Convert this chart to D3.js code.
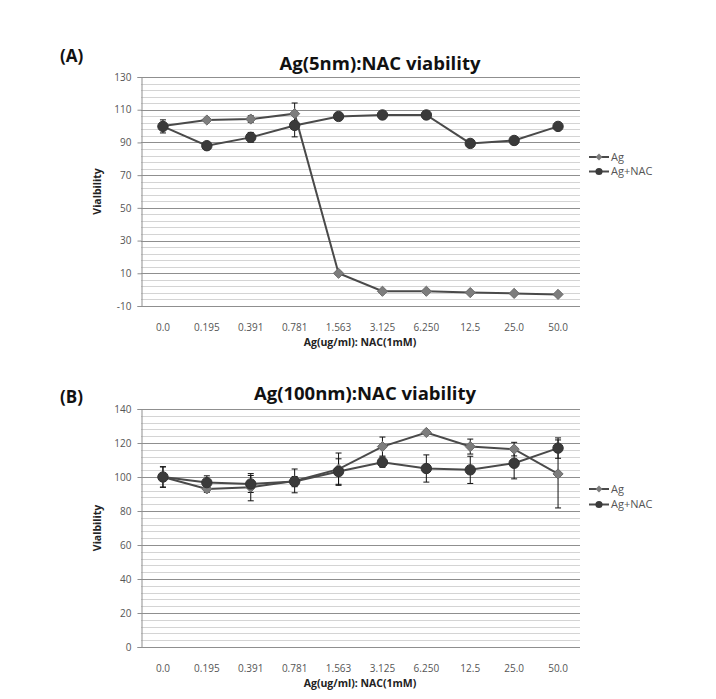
<!DOCTYPE html>
<html>
<head>
<meta charset="utf-8">
<script src="https://cdn.jsdelivr.net/npm/d3@7"></script>
<style>
  html, body { margin: 0; padding: 0; background: #fff; }
  svg { display: block; }
</style>
</head>
<body>
<svg id="chart" width="716" height="699"></svg>
<script>
// ---- data ----
const categories = ["0.0", "0.195", "0.391", "0.781", "1.563", "3.125", "6.250", "12.5", "25.0", "50.0"];
const seriesNames = ["Ag", "Ag+NAC"];

// Panel A: Ag(5nm)
const agA      = [100, 103.7, 104.3, 107.6, 10, -1, -1, -1.8, -2.3, -2.9];
const agErrA   = [1, 1, 2, 6.5, 1, 0.5, 0.5, 0.5, 0.5, 0.5];
const nacA     = [99.8, 88, 93.1, 100.4, 105.9, 106.8, 106.8, 89.4, 91.2, 99.8];
const nacErrA  = [4, 1, 3, 7, 1, 1, 1, 1, 1, 1];
const yTicksA  = [-10, 10, 30, 50, 70, 90, 110, 130];

// Panel B: Ag(100nm)
const agB      = [100, 93, 94, 97.7, 104.6, 117.9, 126.2, 117.9, 116.4, 101.8];
const agErrB   = [6, 2, 8, 7, 9.5, 5.6, 1, 4.4, 4, 20];
const nacB     = [100, 96.7, 95.9, 97.3, 103.2, 108.7, 105, 104.2, 108.1, 117];
const nacErrB  = [6, 4, 5, 3, 7.5, 3, 8, 8, 9.2, 6];
const yTicksB  = [0, 20, 40, 60, 80, 100, 120, 140];

const svg = d3.select("#chart");
const font = "'Open Sans', 'Noto Sans', sans-serif";

function drawPanel(cfg) {
  const g = svg.append("g");
  const x = d3.scaleBand().domain(categories).range([cfg.left, cfg.right]);
  const y = d3.scaleLinear().domain(cfg.domain).range([cfg.bottom, cfg.top]);
  const cx = d => x(d) + x.bandwidth() / 2;

  // minor gridlines
  const minor = d3.range(cfg.domain[0], cfg.domain[1] + 0.001, cfg.minorStep);
  g.append("g").selectAll("line").data(minor).join("line")
    .attr("x1", cfg.left).attr("x2", cfg.right)
    .attr("y1", d => Math.round(y(d)) + 0.5).attr("y2", d => Math.round(y(d)) + 0.5)
    .attr("stroke", "#d4d4d4").attr("stroke-width", 1);
  // major gridlines
  g.append("g").selectAll("line").data(cfg.ticks).join("line")
    .attr("x1", cfg.left).attr("x2", cfg.right)
    .attr("y1", d => Math.round(y(d)) + 0.5).attr("y2", d => Math.round(y(d)) + 0.5)
    .attr("stroke", "#8f8f8f").attr("stroke-width", 1);

  // y axis
  const yAxis = d3.axisLeft(y).tickValues(cfg.ticks).tickSize(4).tickPadding(6).tickFormat(d => String(d));
  const ya = g.append("g").attr("transform", `translate(${cfg.left + 0.5},0)`).call(yAxis);
  ya.select(".domain").attr("stroke", "#8f8f8f");
  ya.selectAll(".tick line").attr("stroke", "#8f8f8f");
  ya.selectAll(".tick text").attr("fill", "#555").attr("font-size", 10).attr("font-family", font);

  // x axis labels (no line)
  const xAxis = d3.axisBottom(x).tickSize(0).tickPadding(0);
  const xa = g.append("g").attr("transform", `translate(0,${cfg.xLabelY})`).call(xAxis);
  xa.select(".domain").remove();
  xa.selectAll(".tick text").attr("fill", "#555").attr("font-size", 10).attr("font-family", font)
    .attr("dy", "0.35em");

  // titles
  g.append("text").attr("x", cfg.titleX).attr("y", cfg.titleY).attr("text-anchor", "middle")
    .attr("font-family", font).attr("font-weight", "bold").attr("font-size", 18.5).attr("fill", "#111")
    .text(cfg.title);
  g.append("text").attr("x", 60).attr("y", cfg.panelY)
    .attr("font-family", font).attr("font-weight", "bold").attr("font-size", 17).attr("fill", "#111")
    .text(cfg.panel);
  g.append("text").attr("transform", `translate(101,${(cfg.top + cfg.bottom) / 2}) rotate(-90)`)
    .attr("text-anchor", "middle").attr("font-family", font).attr("font-weight", "bold")
    .attr("font-size", 10.5).attr("fill", "#222").text("Vialbility");
  g.append("text").attr("x", 360).attr("y", cfg.xTitleY).attr("text-anchor", "middle")
    .attr("font-family", font).attr("font-weight", "bold").attr("font-size", 10.5).attr("fill", "#222")
    .text("Ag(ug/ml): NAC(1mM)");

  const series = [
    { name: seriesNames[0], vals: cfg.ag, errs: cfg.agErr, shape: "diamond", fill: "#7d7d7d" },
    { name: seriesNames[1], vals: cfg.nac, errs: cfg.nacErr, shape: "circle", fill: "#3a3a3a" }
  ];

  const line = d3.line().x((d, i) => cx(categories[i])).y(d => y(d));

  // error bars
  series.forEach(s => {
    const eb = g.append("g");
    s.vals.forEach((v, i) => {
      const px = cx(categories[i]);
      const y1 = y(v + s.errs[i]), y2 = y(v - s.errs[i]);
      eb.append("line").attr("x1", px).attr("x2", px).attr("y1", y1).attr("y2", y2)
        .attr("stroke", "#111").attr("stroke-width", 1);
      [y1, y2].forEach(yy => eb.append("line").attr("x1", px - 3).attr("x2", px + 3)
        .attr("y1", yy).attr("y2", yy).attr("stroke", "#111").attr("stroke-width", 1));
    });
  });

  // lines & markers
  series.forEach(s => {
    g.append("path").datum(s.vals).attr("d", line).attr("fill", "none")
      .attr("stroke", "#4a4a4a").attr("stroke-width", 2);
  });
  series.forEach(s => {
    const sym = d3.symbol().type(s.shape === "diamond" ? d3.symbolDiamond2 : d3.symbolCircle)
      .size(s.shape === "diamond" ? 66 : 85);
    g.append("g").selectAll("path").data(s.vals).join("path")
      .attr("transform", (d, i) => `translate(${cx(categories[i])},${y(d)})`)
      .attr("d", sym)
      .attr("fill", s.fill)
      .attr("stroke", s.shape === "diamond" ? "#6a6a6a" : "#333")
      .attr("stroke-width", 1);
  });

  // legend
  const lg = g.append("g");
  series.forEach((s, i) => {
    const ly = cfg.legendY + i * cfg.legendGap;
    lg.append("line").attr("x1", 589).attr("x2", 609).attr("y1", ly).attr("y2", ly)
      .attr("stroke", "#4a4a4a").attr("stroke-width", 2);
    const sym = d3.symbol().type(s.shape === "diamond" ? d3.symbolDiamond2 : d3.symbolCircle)
      .size(s.shape === "diamond" ? 30 : 40);
    lg.append("path").attr("transform", `translate(599,${ly})`).attr("d", sym).attr("fill", s.fill);
    lg.append("text").attr("x", 611).attr("y", ly).attr("dy", "0.35em")
      .attr("font-family", font).attr("font-size", 11).attr("fill", "#555").text(s.name);
  });
}

drawPanel({
  panel: "(A)", panelY: 62, title: "Ag(5nm):NAC viability", titleX: 380, titleY: 70,
  left: 141, right: 580, top: 77, bottom: 306, domain: [-10, 130], ticks: yTicksA, minorStep: 4,
  xLabelY: 327, xTitleY: 346,
  ag: agA, agErr: agErrA, nac: nacA, nacErr: nacErrA,
  legendY: 157, legendGap: 14.5
});

drawPanel({
  panel: "(B)", panelY: 403, title: "Ag(100nm):NAC viability", titleX: 365, titleY: 400,
  left: 141, right: 580, top: 409, bottom: 647, domain: [0, 140], ticks: yTicksB, minorStep: 4,
  xLabelY: 668, xTitleY: 687,
  ag: agB, agErr: agErrB, nac: nacB, nacErr: nacErrB,
  legendY: 489, legendGap: 15.5
});
</script>
</body>
</html>
